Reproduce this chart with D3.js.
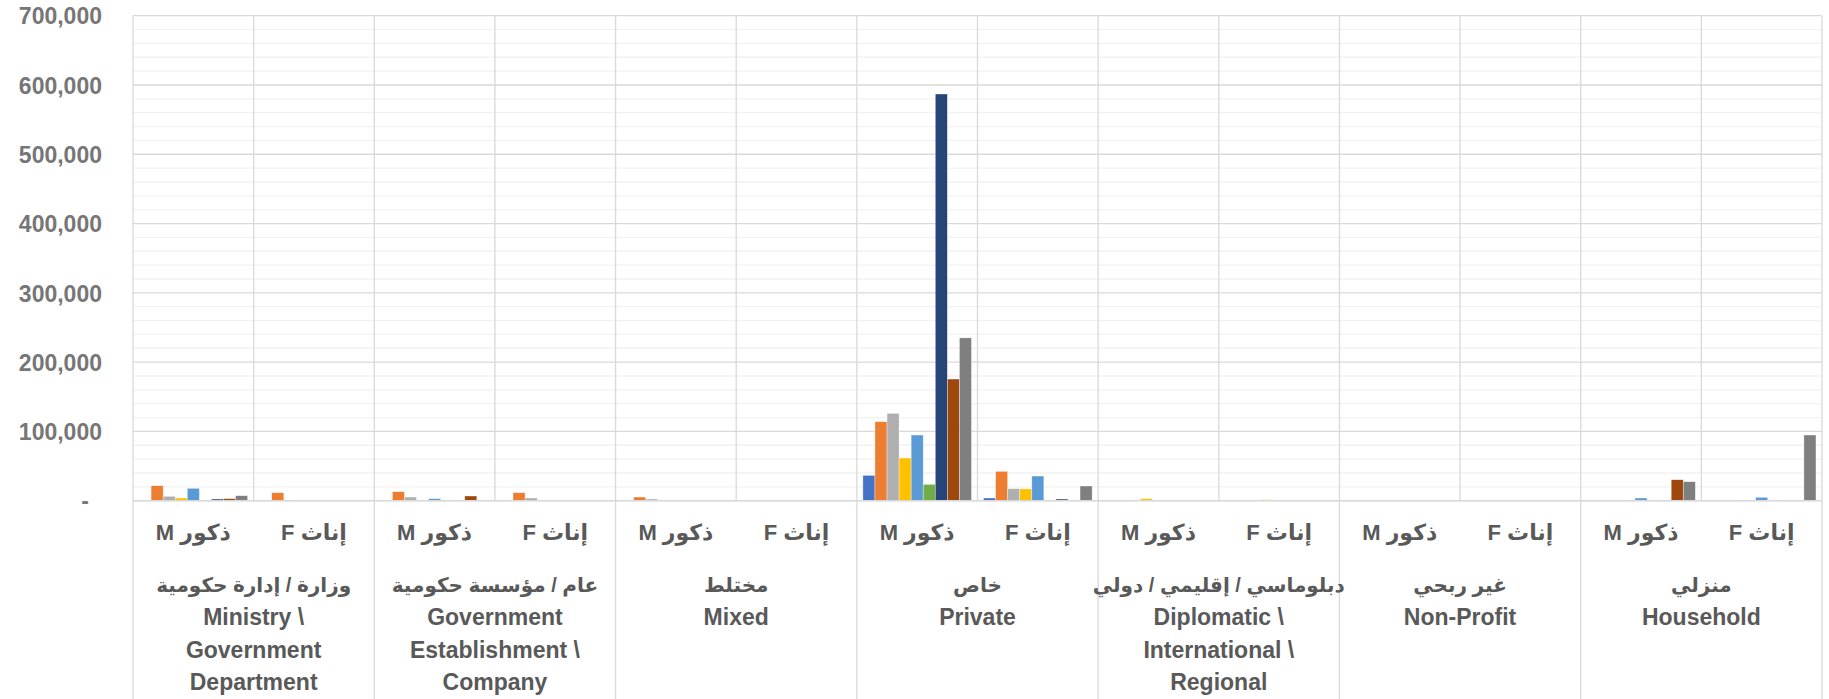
<!DOCTYPE html>
<html>
<head>
<meta charset="utf-8">
<script src="https://cdn.jsdelivr.net/npm/d3@7"></script>
<style>
  body { margin: 0; background: #fff; }
  svg text { font-family: "Liberation Sans", "DejaVu Sans", sans-serif; font-weight: bold; }
</style>
</head>
<body>
<svg id="chart" width="1829" height="699"></svg>
<script>
// sectors (outer axis level), each one gets an M and an F column
const sectorLabels = [
  ['وزارة / إدارة حكومية', 'Ministry \\', 'Government', 'Department'],
  ['عام / مؤسسة حكومية', 'Government', 'Establishment \\', 'Company'],
  ['مختلط', 'Mixed'],
  ['خاص', 'Private'],
  ['دبلوماسي / إقليمي / دولي', 'Diplomatic \\', 'International \\', 'Regional'],
  ['غير ربحي', 'Non-Profit'],
  ['منزلي', 'Household']
];
const genders = ['ذكور M', 'إناث F'];

// one array per series, 14 values: sector1 M, sector1 F, sector2 M, ...
const series1 = [1000, 0, 600, 0, 500, 0, 36600, 3900, 0, 0, 0, 0, 0, 0];
const series2 = [21600, 11500, 13000, 11500, 5300, 300, 114000, 42400, 700, 0, 0, 0, 0, 0];
const series3 = [6300, 0, 5300, 3900, 2400, 0, 126000, 17300, 0, 0, 0, 0, 0, 0];
const series4 = [3900, 500, 1000, 600, 600, 0, 61600, 17000, 2900, 1400, 0, 0, 0, 0];
const series5 = [17900, 500, 2900, 0, 0, 0, 94800, 35600, 0, 0, 0, 0, 3900, 4900];
const series6 = [0, 0, 0, 0, 0, 0, 23600, 0, 0, 0, 0, 0, 0, 0];
const series7 = [2400, 0, 1000, 0, 600, 0, 587000, 2400, 0, 0, 0, 0, 0, 0];
const series8 = [2900, 0, 6800, 0, 600, 0, 175600, 0, 0, 0, 0, 0, 30300, 700];
const series9 = [7200, 0, 500, 0, 600, 0, 235000, 21200, 0, 0, 0, 0, 27400, 94800];

const allSeries = [series1, series2, series3, series4, series5, series6, series7, series8, series9];
const seriesColors = ['#4472C4', '#ED7D31', '#AFAFAF', '#FFC000', '#5B9BD5', '#70AD47', '#264478', '#9E480E', '#7F7F7F'];

const yTicks = [0, 100000, 200000, 300000, 400000, 500000, 600000, 700000];
const yMinor = d3.range(0, 700001, 20000);

const svg = d3.select('#chart');
const plotLeft = 133, plotRight = 1822, plotTop = 15.7, plotBase = 500.7, labelBottom = 699;

// category keys: one column per sector/gender
const cats = [];
sectorLabels.forEach((s, i) => genders.forEach((g, j) => cats.push(i + '-' + j)));

const x = d3.scaleBand().domain(cats).range([plotLeft, plotRight]).paddingInner(0).paddingOuter(0);
const xs = d3.scaleBand().domain(d3.range(allSeries.length)).range([0, x.bandwidth()]).paddingInner(0).paddingOuter(0.5);
const y = d3.scaleLinear().domain([0, 700000]).range([plotBase, plotTop]);

// minor + major horizontal grid
svg.append('g').selectAll('line').data(yMinor.filter(v => v % 100000 !== 0)).enter().append('line')
  .attr('x1', plotLeft).attr('x2', plotRight)
  .attr('y1', d => y(d)).attr('y2', d => y(d))
  .attr('stroke', '#F2F2F2').attr('stroke-width', 1.3);

svg.append('g').selectAll('line').data(yTicks).enter().append('line')
  .attr('x1', plotLeft).attr('x2', plotRight)
  .attr('y1', d => y(d)).attr('y2', d => y(d))
  .attr('stroke', '#D9D9D9').attr('stroke-width', 1.3);

// vertical lines: every column edge inside the plot, sector edges run down through the labels
const edges = cats.map(c => x(c)).concat([plotRight]);
svg.append('g').selectAll('line').data(edges).enter().append('line')
  .attr('x1', d => d).attr('x2', d => d)
  .attr('y1', plotTop)
  .attr('y2', (d, i) => i % 2 === 0 ? labelBottom : plotBase)
  .attr('stroke', '#D9D9D9').attr('stroke-width', 1.3);

// bars
const barData = [];
allSeries.forEach((vals, si) => {
  vals.forEach((v, ci) => barData.push({ cat: cats[ci], s: si, v: v }));
});

svg.append('g').selectAll('rect').data(barData.filter(d => d.v > 0)).enter().append('rect')
  .attr('x', d => x(d.cat) + xs(d.s))
  .attr('width', xs.bandwidth())
  .attr('y', d => y(d.v))
  .attr('height', d => plotBase - y(d.v))
  .attr('fill', d => seriesColors[d.s])
  .attr('stroke', '#fff')
  .attr('stroke-opacity', 0.6)
  .attr('stroke-width', 0.6);

// baseline
svg.append('line')
  .attr('x1', plotLeft).attr('x2', plotRight).attr('y1', plotBase).attr('y2', plotBase)
  .attr('stroke', '#D9D9D9').attr('stroke-width', 1.5);

// y axis labels
const yAxis = d3.axisLeft(y)
  .tickValues(yTicks)
  .tickSize(0)
  .tickPadding(0)
  .tickFormat(d => d === 0 ? '-' : d3.format(',')(d));

const yg = svg.append('g').attr('transform', 'translate(102,0)').call(yAxis);
yg.select('.domain').remove();
yg.selectAll('text')
  .attr('fill', '#767676')
  .style('font-size', '23px')
  .attr('dy', '0.36em');
yg.selectAll('.tick').filter(d => d === 0).select('text').attr('x', -13);

// gender labels
svg.append('g').selectAll('text').data(cats).enter().append('text')
  .attr('x', d => x(d) + x.bandwidth() / 2)
  .attr('y', 532)
  .attr('text-anchor', 'middle')
  .attr('dy', '0.35em')
  .attr('direction', 'rtl')
  .attr('fill', '#595959')
  .style('font-size', '22px')
  .text((d, i) => genders[i % 2]);

// sector labels
const sg = svg.append('g').selectAll('text').data(sectorLabels).enter().append('text')
  .attr('text-anchor', 'middle')
  .attr('fill', '#595959');

sg.each(function(lines, i) {
  const cx = x(i + '-0') + x.bandwidth();
  const t = d3.select(this);
  lines.forEach((line, k) => {
    t.append('tspan')
      .attr('x', cx)
      .attr('y', 585 + k * 32.3)
      .attr('dy', '0.35em')
      .attr('direction', k === 0 ? 'rtl' : 'ltr')
      .attr('unicode-bidi', k === 0 ? 'embed' : 'normal')
      .style('font-size', k === 0 ? '20px' : '23px')
      .text(line);
  });
});
</script>
</body>
</html>
